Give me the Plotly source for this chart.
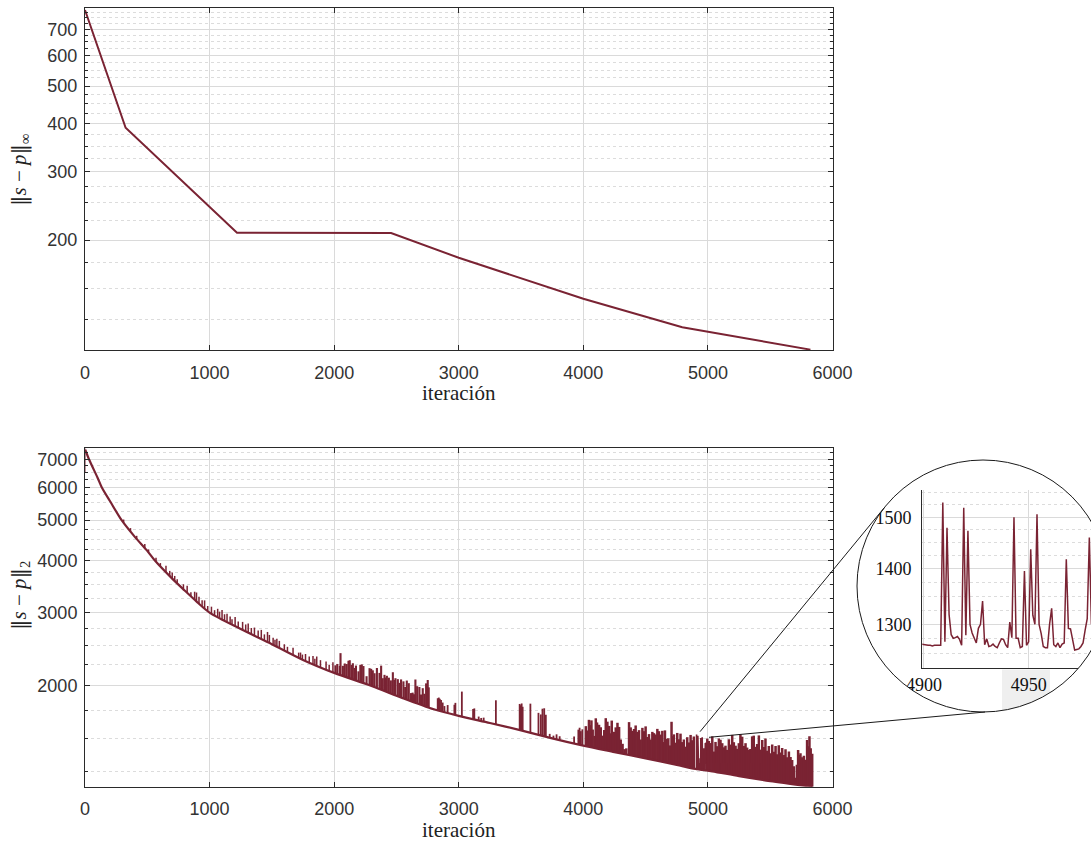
import numpy as np
import plotly.graph_objects as go

# ---------------- data: top panel ||s-p||_inf ----------------
linf_iter = [0, 326, 1220, 2457, 3000, 3500, 4000, 4794, 5000, 5823]
linf_val = [786, 390, 208.8, 208.6, 180.0, 159.3, 141.1, 119.0, 115.9, 104.2]

# ---------------- data: bottom panel ||s-p||_2 ----------------
# first iterations (short drop at iteration 0)
l2_start_iter = [0, 1, 2]
l2_start_val = [7440, 6520, 7380]
# lower envelope of the curve
l2_base_iter = [2, 32, 100, 134, 200, 294, 400, 500, 561, 700, 800, 900, 1000,
                1250, 1500, 1750, 2000, 2300, 2550, 2800, 3000, 3250, 3500, 3750, 4000,
                4250, 4500, 4750, 4900, 5035, 5250, 5500, 5840]
l2_base_val = [7380, 7000, 6330, 6000, 5560, 5000, 4560, 4220, 4000, 3620, 3390,
               3180, 3000, 2740, 2520, 2310, 2150, 2000, 1870, 1758, 1695, 1630, 1565, 1497,
               1438, 1388, 1340, 1293, 1265, 1248, 1215, 1182, 1146]

# spikes above the envelope: iteration, foot value, peak value
spike_iter = [310, 365, 415, 480, 510, 570, 605, 650, 680, 700, 720, 740, 790, 820, 850, 880, 895,
              915, 940, 960, 985,
              1015, 1040, 1065, 1080, 1100, 1120, 1140, 1165, 1180, 1205, 1230, 1265, 1290, 1310,
              1335, 1360, 1390, 1415, 1440, 1465, 1480, 1510, 1525, 1540, 1560, 1600, 1625, 1670,
              1715, 1730, 1745, 1770, 1800, 1830, 1845, 1860, 1890, 1935, 1960, 1990, 2010, 2025,
              2045,
              2051, 2070, 2085, 2100, 2115, 2125, 2140, 2150, 2165, 2175, 2195, 2210, 2222, 2235,
              2260, 2284, 2297, 2310, 2324, 2343, 2364, 2377, 2390, 2404, 2415, 2423, 2439, 2455,
              2471, 2484, 2492, 2511, 2524, 2537, 2556, 2570, 2583, 2599, 2617, 2630, 2641, 2652,
              2666, 2684, 2697, 2711, 2724, 2738, 2751, 2759,
              2831, 2840, 2848, 2858, 2871, 2885, 2911, 2965, 2973, 3025, 3115, 3125, 3160, 3180,
              3200, 3298, 3489, 3497, 3505, 3513, 3575, 3640, 3659, 3672, 3686, 3699, 3730, 3760,
              3785, 3810, 3926, 3960, 3970, 3980, 3992,
              4020, 4035, 4045, 4055, 4065, 4075, 4090, 4100, 4110, 4126, 4140, 4155, 4168, 4180,
              4193, 4207, 4218, 4228, 4238, 4247, 4260, 4274, 4287, 4300, 4315, 4330, 4345, 4367,
              4380, 4393, 4407, 4420, 4434, 4447, 4460, 4474, 4487, 4500, 4514, 4527, 4540, 4554,
              4567, 4580, 4594, 4607, 4620, 4634, 4645, 4655, 4668, 4682, 4695, 4708, 4718, 4727,
              4740, 4754, 4767, 4780, 4793, 4807, 4820, 4834, 4847, 4861, 4874, 4887,
              4988, 4995, 5008, 5021, 5035, 5048, 5061, 5074, 5088, 5101, 5115, 5128, 5141, 5154,
              5168, 5181, 5195, 5208, 5222, 5235, 5248, 5261, 5275, 5288, 5302, 5315, 5328, 5341,
              5355, 5368, 5382, 5395, 5409, 5422, 5436, 5449, 5462, 5475, 5489, 5502, 5516, 5529,
              5543, 5556, 5569, 5582, 5596, 5609, 5623, 5636, 5650, 5663, 5676, 5690, 5703, 5714,
              5724, 5735, 5743, 5756, 5770, 5783, 5796, 5805, 5815, 5825, 5837]
spike_foot = [4934, 4706, 4509, 4288, 4184, 3975, 3879, 3757, 3675, 3620, 3574, 3528, 3413, 3348,
              3285, 3222, 3190, 3153, 3108, 3072, 3027,
              2984, 2958, 2932, 2917, 2896, 2875, 2854, 2828, 2813, 2787, 2761, 2727, 2705, 2687,
              2665, 2643, 2617, 2595, 2573, 2551, 2538, 2512, 2499, 2486, 2470, 2436, 2415, 2377,
              2339, 2327, 2314, 2297, 2278, 2259, 2249, 2240, 2220, 2192, 2176, 2156, 2145, 2137,
              2128,
              2124, 2115, 2107, 2100, 2092, 2087, 2080, 2075, 2067, 2062, 2052, 2045, 2039, 2032,
              2020, 2008, 2001, 1995, 1987, 1978, 1967, 1960, 1953, 1946, 1940, 1936, 1928, 1919,
              1911, 1904, 1900, 1890, 1884, 1877, 1867, 1861, 1855, 1848, 1840, 1834, 1829, 1825,
              1818, 1810, 1805, 1798, 1792, 1786, 1780, 1777,
              1748, 1745, 1743, 1740, 1736, 1731, 1723, 1706, 1704, 1689, 1665, 1662, 1653, 1648,
              1643, 1618, 1568, 1566, 1564, 1561, 1545, 1527, 1522, 1519, 1515, 1511, 1502, 1495,
              1489, 1482, 1456, 1447, 1445, 1443, 1440,
              1434, 1431, 1429, 1427, 1425, 1423, 1420, 1418, 1416, 1413, 1410, 1407, 1404, 1402,
              1399, 1397, 1394, 1392, 1390, 1389, 1386, 1383, 1381, 1378, 1375, 1372, 1370, 1365,
              1363, 1360, 1358, 1355, 1352, 1350, 1347, 1345, 1342, 1340, 1337, 1335, 1332, 1330,
              1327, 1325, 1322, 1320, 1317, 1315, 1313, 1311, 1308, 1305, 1303, 1301, 1299, 1297,
              1295, 1292, 1290, 1287, 1285, 1282, 1280, 1277, 1275, 1272, 1270, 1267,
              1254, 1253, 1251, 1250, 1248, 1246, 1244, 1242, 1240, 1238, 1236, 1234, 1232, 1230,
              1228, 1226, 1224, 1222, 1219, 1217, 1215, 1214, 1212, 1210, 1208, 1206, 1204, 1203,
              1201, 1199, 1197, 1196, 1194, 1192, 1190, 1189, 1187, 1185, 1183, 1182, 1180, 1179,
              1177, 1176, 1174, 1173, 1171, 1170, 1168, 1167, 1166, 1164, 1163, 1161, 1160, 1159,
              1158, 1157, 1156, 1155, 1153, 1152, 1151, 1150, 1149, 1148, 1146]
spike_peak = [5018, 4786, 4586, 4382, 4255, 4062, 3945, 3885, 3778, 3743, 3674, 3606, 3509, 3479,
              3357, 3367, 3353, 3276, 3214, 3210, 3112,
              3100, 3041, 3064, 3016, 3044, 2973, 2982, 2938, 2892, 2929, 2855, 2850, 2810, 2824,
              2756, 2762, 2719, 2727, 2660, 2696, 2652, 2610, 2584, 2598, 2566, 2519, 2483, 2470,
              2405, 2406, 2379, 2387, 2355, 2361, 2325, 2354, 2307, 2291, 2250, 2279, 2242, 2259,
              2236,
              2398, 2236, 2265, 2258, 2299, 2306, 2246, 2268, 2210, 2239, 2169, 2248, 2253, 2233,
              2111, 2207, 2199, 2181, 2146, 2209, 2150, 2238, 2088, 2127, 2095, 2116, 2094, 2063,
              2158, 2068, 2088, 2077, 2035, 2074, 2052, 1989, 2061, 2031, 1923, 1928, 1911, 2073,
              1998, 1989, 1908, 1976, 1916, 2029, 2067, 1985,
              1869, 1876, 1863, 1850, 1825, 1790, 1800, 1803, 1822, 1939, 1760, 1767, 1689, 1676,
              1679, 1848, 1811, 1798, 1816, 1783, 1814, 1724, 1709, 1764, 1768, 1706, 1535, 1520,
              1531, 1515, 1513, 1571, 1588, 1558, 1574,
              1602, 1564, 1659, 1611, 1654, 1572, 1518, 1673, 1635, 1614, 1592, 1520, 1568, 1674,
              1642, 1604, 1540, 1652, 1553, 1551, 1591, 1632, 1595, 1488, 1453, 1411, 1417, 1638,
              1591, 1561, 1577, 1608, 1552, 1567, 1488, 1587, 1558, 1600, 1509, 1533, 1488, 1552,
              1541, 1530, 1578, 1558, 1529, 1561, 1467, 1565, 1494, 1498, 1440, 1641, 1516, 1531,
              1462, 1543, 1490, 1537, 1467, 1488, 1430, 1507, 1464, 1526, 1482, 1513,
              1463, 1496, 1476, 1459, 1514, 1392, 1468, 1434, 1497, 1486, 1458, 1425, 1438, 1405,
              1490, 1447, 1526, 1466, 1438, 1413, 1458, 1531, 1511, 1436, 1458, 1423, 1405, 1412,
              1514, 1520, 1429, 1451, 1522, 1407, 1484, 1427, 1497, 1398, 1435, 1379, 1448, 1391,
              1436, 1372, 1441, 1384, 1420, 1365, 1410, 1348, 1392, 1351, 1328, 1283, 1205, 1295,
              1405, 1365, 1380, 1348, 1361, 1331, 1484, 1434, 1514, 1417, 1375]

# zoomed window 4899-4980 (shown in the circular inset)
inset_iter = list(range(4899, 4981))
inset_val = [1266, 1265, 1264, 1264, 1264, 1263, 1264, 1264, 1263, 1264,   # 4899-4908
             1530, 1270, 1479, 1317, 1282, 1276, 1277, 1279, 1274, 1264,   # 4909-4918
             1519, 1281, 1473, 1300, 1285, 1275, 1268, 1293, 1300, 1341,   # 4919-4928
             1265, 1275, 1262, 1263, 1266, 1262, 1260, 1268, 1275, 1274,   # 4929-4938
             1265, 1260, 1304, 1277, 1500, 1276, 1276, 1260, 1262, 1396,   # 4939-4948
             1264, 1270, 1437, 1316, 1300, 1506, 1300, 1284, 1262, 1260,   # 4949-4958
             1260, 1300, 1328, 1265, 1262, 1268, 1260, 1266, 1268, 1418,   # 4959-4968
             1293, 1292, 1275, 1256, 1257, 1258, 1262, 1268, 1290, 1310,   # 4969-4978
             1460, 1300]                                                   # 4979-4980

x_ticks = [0, 1000, 2000, 3000, 4000, 5000, 6000]
linf_ticks = [200, 300, 400, 500, 600, 700]
linf_minor = [125, 150, 175, 225, 250, 275, 325, 350, 375, 425, 450, 475, 525, 550, 575,
              625, 650, 675, 725, 750, 775]
l2_ticks = [2000, 3000, 4000, 5000, 6000, 7000]
l2_minor = [1250, 1500, 1750, 2250, 2500, 2750, 3250, 3500, 3750, 4250, 4500, 4750, 5250,
            5500, 5750, 6250, 6500, 6750, 7250]
inset_xticks = [4900, 4950]
inset_yticks = [1300, 1400, 1500]
inset_minor = [1250, 1275, 1325, 1350, 1375, 1425, 1450, 1475, 1525, 1550]

# ---------------- figure ----------------
W, H = 1091, 842
def px(v):
    return v / W
def py(v):
    return 1 - v / H

COL = '#7a2333'
fig = go.Figure()
fig.add_trace(go.Scatter(x=linf_iter, y=linf_val, mode='lines', line=dict(color=COL, width=2),
                         xaxis='x', yaxis='y', hoverinfo='skip'))

# spike stroke width by stretch of iterations (styling)
width_bands = [(0, 2000, 1.5), (2000, 2800, 2.1), (2800, 4000, 1.8), (4000, 6000, 2.5)]
for lo, hi, wdt in width_bands:
    sx, sy = [], []
    for xi, f, p in zip(spike_iter, spike_foot, spike_peak):
        if lo <= xi < hi:
            sx += [xi, xi, None]
            sy += [f, p, None]
    fig.add_trace(go.Scatter(x=sx, y=sy, mode='lines', line=dict(color=COL, width=wdt),
                             xaxis='x2', yaxis='y2', hoverinfo='skip', connectgaps=False))
fig.add_trace(go.Scatter(x=inset_iter, y=inset_val, mode='lines', line=dict(color=COL, width=1.6),
                         xaxis='x2', yaxis='y2', hoverinfo='skip'))
fig.add_trace(go.Scatter(x=l2_start_iter, y=l2_start_val, mode='lines',
                         line=dict(color='rgba(122,35,51,0.55)', width=1.5),
                         xaxis='x2', yaxis='y2', hoverinfo='skip'))
fig.add_trace(go.Scatter(x=l2_base_iter, y=l2_base_val, mode='lines',
                         line=dict(color=COL, width=2.2, shape='spline', smoothing=0.8),
                         xaxis='x2', yaxis='y2', hoverinfo='skip'))
fig.add_trace(go.Scatter(x=inset_iter, y=inset_val, mode='lines', line=dict(color=COL, width=1.5),
                         xaxis='x3', yaxis='y3', hoverinfo='skip'))

SANS = dict(family='Liberation Sans, Arial, sans-serif', size=18, color='#333333')
SERIF = dict(family='Liberation Serif, Times New Roman, serif', size=18, color='#111111')
GRID = '#dadada'
MINGRID = '#dcdcdc'
AXC = '#2a2a2a'

def xax(dom_anchor):
    return dict(domain=[px(85), px(832.5)], range=[0, 6000], anchor=dom_anchor,
                tickmode='array', tickvals=x_ticks, ticktext=[str(v) for v in x_ticks],
                ticks='inside', ticklen=5, tickcolor=AXC, showgrid=True, gridcolor=GRID,
                gridwidth=1, showline=True, linecolor=AXC, linewidth=1, mirror='ticks',
                zeroline=False, tickfont=SANS, ticklabelstandoff=6)

def yax(dom, rng, ticks, minor, anchor):
    return dict(type='log', domain=dom, range=rng, anchor=anchor, tickmode='array',
                tickvals=ticks, ticktext=[str(v) for v in ticks], ticks='inside', ticklen=5,
                tickcolor=AXC, showgrid=True, gridcolor=GRID, gridwidth=1, showline=True,
                linecolor=AXC, linewidth=1, mirror='ticks', zeroline=False, tickfont=SANS,
                ticklabelstandoff=3,
                minor=dict(tickmode='array', tickvals=minor, ticks='inside', ticklen=3,
                           tickcolor=AXC, showgrid=True, gridcolor=MINGRID, gridwidth=1,
                           griddash='3px,3px'))

fig.update_layout(
    width=W, height=H, margin=dict(l=0, r=0, t=0, b=0), template='none',
    paper_bgcolor='white', plot_bgcolor='white', showlegend=False, hovermode=False,
    xaxis=xax('y'),
    yaxis=yax([py(350), py(8.3)], [2.0169, 2.8999], linf_ticks, linf_minor, 'x'),
    xaxis2=xax('y2'),
    yaxis2=yax([py(786.7), py(448.3)], [3.0593, 3.8715], l2_ticks, l2_minor, 'x2'),
    xaxis3=dict(domain=[px(922.3), 1.0], range=[4899.2, 4979.8], anchor='y3',
                tickmode='array', tickvals=inset_xticks, ticktext=[str(v) for v in inset_xticks],
                ticks='', showgrid=True, gridcolor=GRID, showline=True, linecolor=AXC,
                linewidth=1.2, zeroline=False, tickfont=SERIF, ticklabelstandoff=0),
    yaxis3=dict(type='log', domain=[py(668.3), py(490)], range=[3.0884, 3.19194], anchor='x3',
                tickmode='array', tickvals=inset_yticks, ticktext=[str(v) for v in inset_yticks],
                ticks='', showgrid=True, gridcolor=GRID, showline=True, linecolor=AXC,
                linewidth=1.2, zeroline=False, tickfont=SERIF, ticklabelstandoff=6,
                minor=dict(tickmode='array', tickvals=inset_minor, showgrid=True,
                           gridcolor=MINGRID, griddash='3px,3px')),
)

TITLE = dict(family='Liberation Serif, Times New Roman, serif', size=21, color='#222222')
BARS = '<span style="font-family:DejaVu Serif">‖</span>'
ann = [
    dict(text='iteración', x=px(459), y=py(393), xref='paper', yref='paper', showarrow=False,
         font=TITLE, xanchor='center', yanchor='middle'),
    dict(text='iteración', x=px(459), y=py(830), xref='paper', yref='paper', showarrow=False,
         font=TITLE, xanchor='center', yanchor='middle'),
    dict(text=BARS + '<i>s</i> − <i>p</i>' + BARS + '<sub>∞</sub>', x=px(20), y=py(170),
         xref='paper', yref='paper', showarrow=False, font=TITLE, textangle=-90,
         xanchor='center', yanchor='middle'),
    dict(text=BARS + '<i>s</i> − <i>p</i>' + BARS + '<sub>2</sub>', x=px(20), y=py(596),
         xref='paper', yref='paper', showarrow=False, font=TITLE, textangle=-90,
         xanchor='center', yanchor='middle'),
]
fig.update_layout(annotations=ann)

# circular inset decoration (styling only)
cx, cy, r = 983, 586, 126
th = np.linspace(0, 2 * np.pi, 181)
circ = ' '.join(('M' if i == 0 else 'L') + f'{(cx + r * np.cos(t)) / W:.5f},{1 - (cy + r * np.sin(t)) / H:.5f}'
                for i, t in enumerate(th)) + ' Z'
rect = (f'M{px(846):.5f},{py(440):.5f} L1.03,{py(440):.5f} L1.03,{py(732):.5f} '
        f'L{px(846):.5f},{py(732):.5f} Z')
shapes = [
    dict(type='rect', xref='paper', yref='paper', x0=px(1002), x1=px(1050), y0=py(712), y1=py(669.5),
         fillcolor='#efefef', line=dict(width=0), layer='below'),
    dict(type='path', xref='paper', yref='paper', path=rect + ' ' + circ, fillcolor='white',
         line=dict(width=0), layer='above', fillrule='evenodd'),
    dict(type='circle', xref='paper', yref='paper', x0=px(cx - r), x1=px(cx + r),
         y0=py(cy + r), y1=py(cy - r), line=dict(color='#1a1a1a', width=1), layer='above'),
    dict(type='line', xref='paper', yref='paper', x0=px(700), y0=py(731.7), x1=px(884), y1=py(508),
         line=dict(color='#1a1a1a', width=1), layer='above'),
    dict(type='line', xref='paper', yref='paper', x0=px(709), y0=py(737.3), x1=px(985), y1=py(712),
         line=dict(color='#1a1a1a', width=1), layer='above'),
]
fig.update_layout(shapes=shapes)

fig.write_html('out.html')
